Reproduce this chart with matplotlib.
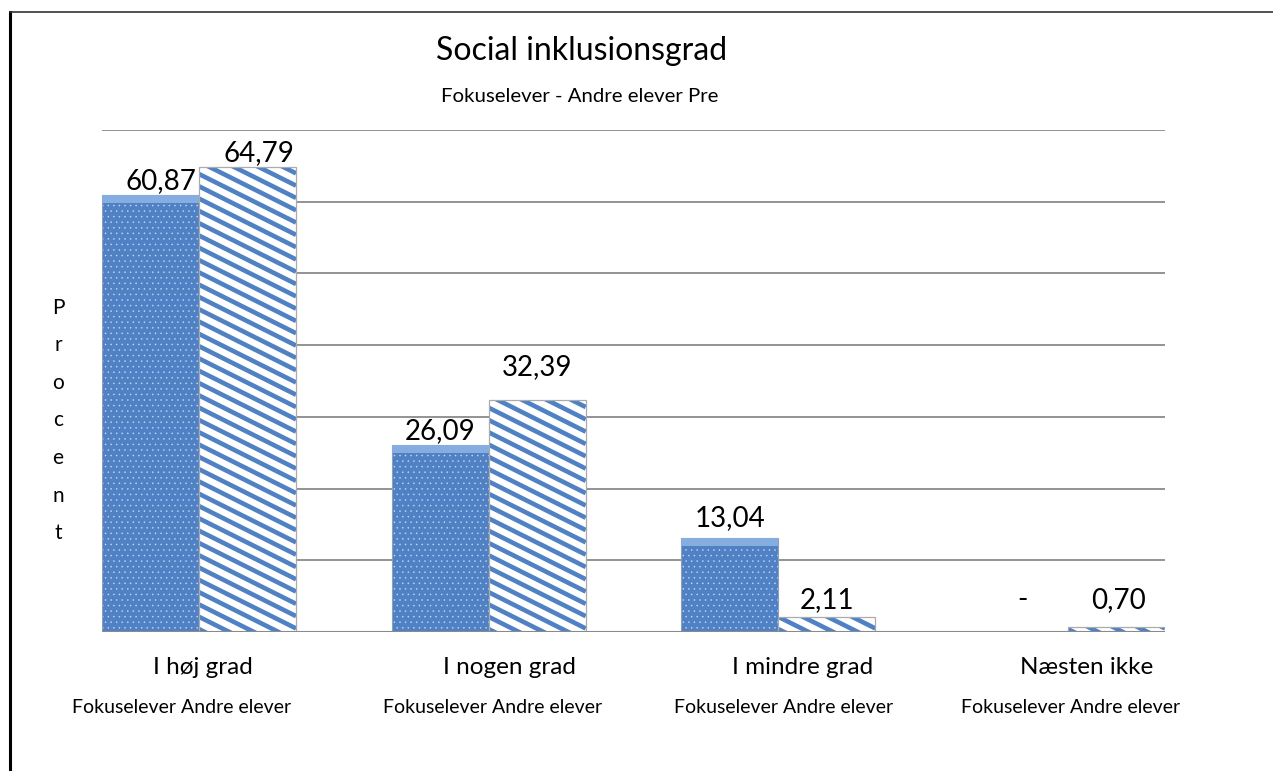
import matplotlib
matplotlib.use("Agg")
import matplotlib.pyplot as plt
from matplotlib.lines import Line2D
from matplotlib.collections import LineCollection
import numpy as np

# data
categories = ["I høj grad", "I nogen grad", "I mindre grad", "Næsten ikke"]
fokus = [60.87, 26.09, 13.04, 0.0]
andre = [64.79, 32.39, 2.11, 0.70]
fokus_labels = ["60,87", "26,09", "13,04", "-"]
andre_labels = ["64,79", "32,39", "2,11", "0,70"]
sub_label = "Fokuselever Andre elever"
ylabel = "Procent"

# label placement tweaks (pixels)
fokus_off = [(10, 14), (0, 14), (0, 20), (3, 32)]
andre_off = [(11, 14), (0, 33), (0, 17), (2, 27)]
cat_dx = [4, 21, 24, 19]
sub_dx = [-17, 4, 5, 3]

plt.rcParams['font.family'] = ['Lato', 'DejaVu Sans']
plt.rcParams['hatch.linewidth'] = 0.4

blue = '#4f81c4'
fig = plt.figure(figsize=(12.73, 7.71), dpi=100)
ax = fig.add_axes([0.0801, 0.1803, 0.8351, 0.6511])

w = 0.335
x = np.arange(len(categories))
ax.set_xlim(-w, len(categories) - 1 + w)
ax.set_ylim(0, 70)

# gridlines
for v in range(10, 71, 10):
    ax.axhline(v, color='#8a8a8a', lw=1.3, zorder=0)
ax.axhline(0, color='#8a8a8a', lw=1.5, zorder=3)

# Fokuselever: solid blue with small white dots
ax.bar(x - w / 2, fokus, w, color=blue, edgecolor=(1, 1, 1, 0.55),
       hatch='...', linewidth=0, zorder=2)
ax.bar(x - w / 2, fokus, w, fill=False, edgecolor='#8f9fb5', linewidth=0.8, zorder=2)
bev = [min(f, 1.1) for f in fokus]
ax.bar(x - w / 2, bev, w, bottom=[f - b for f, b in zip(fokus, bev)],
       color='#86ade0', linewidth=0, zorder=2)

# Andre elever: white with blue diagonal stripes (drawn and clipped to each bar)
bars = ax.bar(x + w / 2, andre, w, color='white', linewidth=0, zorder=2)
px_x = 0.8351 * 1273 / (len(categories) - 1 + 2 * w)
px_y = 0.6511 * 771 / 70
slope = 0.5 * px_x / px_y
step = 12.3 / px_y
for r in bars:
    x0, x1, h = r.get_x(), r.get_x() + r.get_width(), r.get_height()
    drop = slope * (x1 - x0)
    segs = [[(x0, c), (x1, c - drop)] for c in np.arange(0.4, h + drop + step, step)]
    lc = LineCollection(segs, colors=blue, linewidths=3.3, zorder=2.1)
    ax.add_collection(lc)
    lc.set_clip_path(r)
ax.bar(x + w / 2, andre, w, fill=False, edgecolor='#ababab', linewidth=0.9, zorder=2.2)

for i in range(len(categories)):
    ax.annotate(fokus_labels[i], (x[i] - w / 2, fokus[i]), xytext=fokus_off[i],
                textcoords='offset pixels', ha='center', va='center', fontsize=20)
    ax.annotate(andre_labels[i], (x[i] + w / 2, andre[i]), xytext=andre_off[i],
                textcoords='offset pixels', ha='center', va='center', fontsize=20)
    ax.annotate(categories[i], (x[i], 0), xytext=(cat_dx[i], -36),
                textcoords='offset pixels', ha='center', va='center', fontsize=17.5)
    ax.annotate(sub_label, (x[i], 0), xytext=(sub_dx[i], -76),
                textcoords='offset pixels', ha='center', va='center', fontsize=14)

ax.set_xticks([])
ax.set_yticks([])
for s in ax.spines.values():
    s.set_visible(False)
ax.patch.set_alpha(0)

fig.text(582 / 1273, 1 - 51 / 771, "Social inklusionsgrad", ha='center', va='center', fontsize=23)
fig.text(580 / 1273, 1 - 96 / 771, "Fokuselever - Andre elever Pre", ha='center', va='center',
         fontsize=14.7)
for i, ch in enumerate(ylabel):
    fig.text(58 / 1273, 1 - (308 + 37.5 * i) / 771, ch, ha='center', va='center', fontsize=15)

# partial chart border
fig.add_artist(Line2D([10 / 1273, 10 / 1273], [0, 1 - 12 / 771], color='black', lw=2.2))
fig.add_artist(Line2D([10 / 1273, 1], [1 - 12 / 771, 1 - 12 / 771], color='#333333', lw=1.2))

fig.savefig('out.png', dpi=100)
